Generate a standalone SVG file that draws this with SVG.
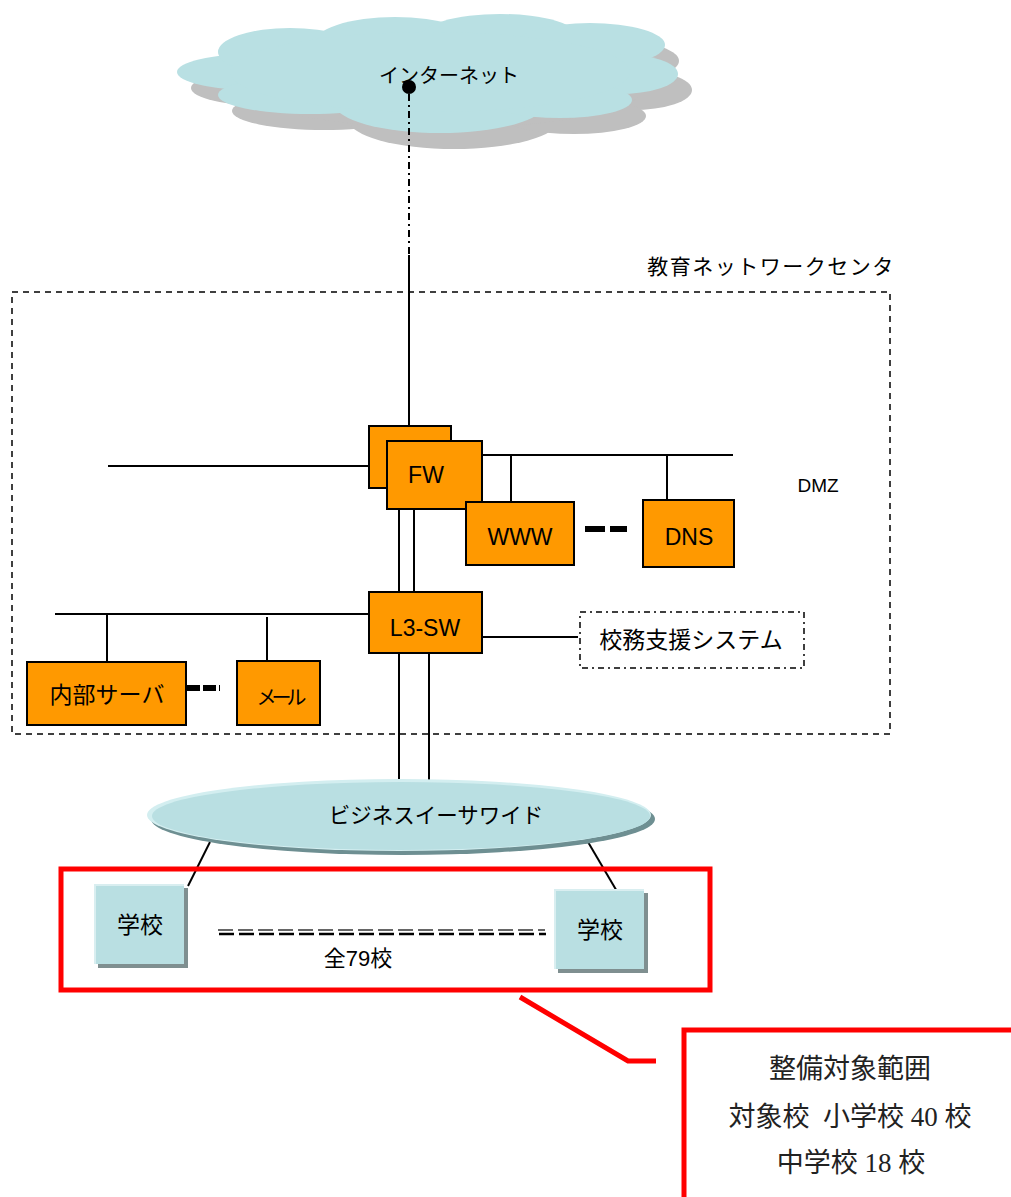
<svg xmlns="http://www.w3.org/2000/svg" width="1011" height="1197" viewBox="0 0 1011 1197">
<style>
.t{font-family:"Liberation Sans","Noto Sans CJK JP",sans-serif;fill:#000;text-anchor:middle}
.m{font-family:"Liberation Serif","Noto Sans CJK JP",serif;fill:#222;text-anchor:middle;font-size:27px}
.box{fill:#ff9900;stroke:#000;stroke-width:2}
.ln{stroke:#000;stroke-width:2;fill:none}
.cl{fill:#b9e0e3}
.cs{fill:#bfbfbf}
</style>
<defs>
<g id="cloudShape">
<ellipse cx="255" cy="72" rx="78" ry="18"/>
<ellipse cx="290" cy="52" rx="72" ry="24"/>
<ellipse cx="395" cy="44" rx="82" ry="27"/>
<ellipse cx="500" cy="38" rx="80" ry="24"/>
<ellipse cx="590" cy="45" rx="75" ry="22"/>
<ellipse cx="618" cy="74" rx="60" ry="20"/>
<ellipse cx="310" cy="95" rx="92" ry="19"/>
<ellipse cx="440" cy="104" rx="105" ry="29"/>
<ellipse cx="560" cy="100" rx="72" ry="18"/>
<ellipse cx="430" cy="72" rx="200" ry="40"/>
</g>
</defs>
<rect width="1011" height="1197" fill="#fff"/>

<g id="internet">
<use href="#cloudShape" class="cs" transform="translate(14,16)"/>
<use href="#cloudShape" class="cl"/>
<text class="t" x="449" y="83" font-size="20">インターネット</text>
<circle cx="409" cy="87" r="7" fill="#000"/>
</g>

<g id="center">
<rect x="12" y="292" width="878" height="442" fill="none" stroke="#000" stroke-width="1.5" stroke-dasharray="6,5"/>
<text class="t" x="771" y="274" font-size="21" letter-spacing="1.5">教育ネットワークセンタ</text>
</g>

<g id="connectors">
<line x1="409" y1="94" x2="409" y2="255" stroke="#000" stroke-width="2" stroke-dasharray="7,4,2,4"/>
<line class="ln" x1="409" y1="255" x2="409" y2="427"/>
<line class="ln" x1="108" y1="466" x2="369" y2="466"/>
<line class="ln" x1="482" y1="455" x2="733" y2="455"/>
<line class="ln" x1="511" y1="455" x2="511" y2="502"/>
<line class="ln" x1="667" y1="455" x2="667" y2="500"/>
<line class="ln" x1="399" y1="509" x2="399" y2="592"/>
<line class="ln" x1="414" y1="509" x2="414" y2="592"/>
<line class="ln" x1="55" y1="614" x2="369" y2="614"/>
<line class="ln" x1="107" y1="614" x2="107" y2="662"/>
<line class="ln" x1="267" y1="617" x2="267" y2="661"/>
<line class="ln" x1="482" y1="637" x2="578" y2="637"/>
<line class="ln" x1="399" y1="653" x2="399" y2="782"/>
<line class="ln" x1="429" y1="653" x2="429" y2="782"/>
<line class="ln" x1="210" y1="842" x2="188" y2="886"/>
<line class="ln" x1="588" y1="842" x2="625" y2="905"/>
<line x1="585" y1="529" x2="627" y2="529" stroke="#000" stroke-width="6" stroke-dasharray="20,5"/>
<line x1="187" y1="688" x2="220" y2="688" stroke="#000" stroke-width="6" stroke-dasharray="13,3"/>
</g>

<g id="fw">
<rect class="box" x="369" y="426" width="82" height="62"/>
<rect class="box" x="387" y="441" width="95" height="68"/>
<text class="t" x="426" y="483" font-size="23">FW</text>
</g>

<g id="www">
<rect class="box" x="466" y="502" width="108" height="63"/>
<text class="t" x="520" y="545" font-size="23">WWW</text>
</g>

<g id="dns">
<rect class="box" x="643" y="500" width="91" height="67"/>
<text class="t" x="689" y="545" font-size="23">DNS</text>
</g>

<g id="dmz">
<text class="t" x="818" y="492" font-size="19">DMZ</text>
</g>

<g id="l3sw">
<rect class="box" x="369" y="592" width="113" height="61"/>
<text class="t" x="425" y="636" font-size="23">L3-SW</text>
</g>

<g id="naibu">
<rect class="box" x="27" y="662" width="159" height="63"/>
<text class="t" x="107" y="703" font-size="23">内部サーバ</text>
</g>

<g id="mail">
<rect class="box" x="237" y="661" width="83" height="64"/>
<text class="t" x="279" y="705" font-size="20" letter-spacing="-5">メール</text>
</g>

<g id="koumu">
<rect x="580" y="612" width="224" height="56" fill="none" stroke="#000" stroke-width="1.5" stroke-dasharray="6,4,2,4"/>
<text class="t" x="691" y="648" font-size="23">校務支援システム</text>
</g>

<g id="wan">
<ellipse cx="403" cy="819" rx="252" ry="36" fill="#6e8f92"/>
<ellipse cx="399" cy="815" rx="252" ry="36" fill="#d3eef0"/>
<ellipse cx="401" cy="816" rx="249" ry="34" fill="#b9dfe2"/>
<text class="t" x="436" y="823" font-size="21.5">ビジネスイーサワイド</text>
</g>

<g id="school1">
<rect x="98" y="888" width="90" height="80" fill="#7f8f90"/>
<rect x="94" y="884" width="90" height="80" fill="#d9eef0"/>
<rect x="96" y="886" width="88" height="78" fill="#b9dfe2"/>
<text class="t" x="140" y="933" font-size="23">学校</text>
</g>

<g id="school2">
<rect x="558" y="893" width="90" height="80" fill="#7f8f90"/>
<rect x="554" y="889" width="90" height="80" fill="#d9eef0"/>
<rect x="556" y="891" width="88" height="78" fill="#b9dfe2"/>
<text class="t" x="600" y="938" font-size="23">学校</text>
</g>

<g id="schools-dots">
<line x1="218" y1="930" x2="545" y2="930" stroke="#666" stroke-width="2" stroke-dasharray="15,5"/>
<line x1="219" y1="934" x2="546" y2="934" stroke="#000" stroke-width="2.5" stroke-dasharray="15,5"/>
<text class="t" x="358" y="966" font-size="22">全79校</text>
</g>

<g id="scope">
<rect x="61" y="869" width="649" height="121" fill="none" stroke="#ff0000" stroke-width="5"/>
<polyline points="520,997 628,1061 656,1061" fill="none" stroke="#ff0000" stroke-width="5"/>
<polyline points="684,1197 684,1030 1011,1030" fill="none" stroke="#ff0000" stroke-width="5"/>
<text class="m" x="850" y="1078">整備対象範囲</text>
<text class="m" x="850" y="1126" xml:space="preserve">対象校  小学校 40 校</text>
<text class="m" x="851" y="1172">中学校 18 校</text>
</g>
</svg>
